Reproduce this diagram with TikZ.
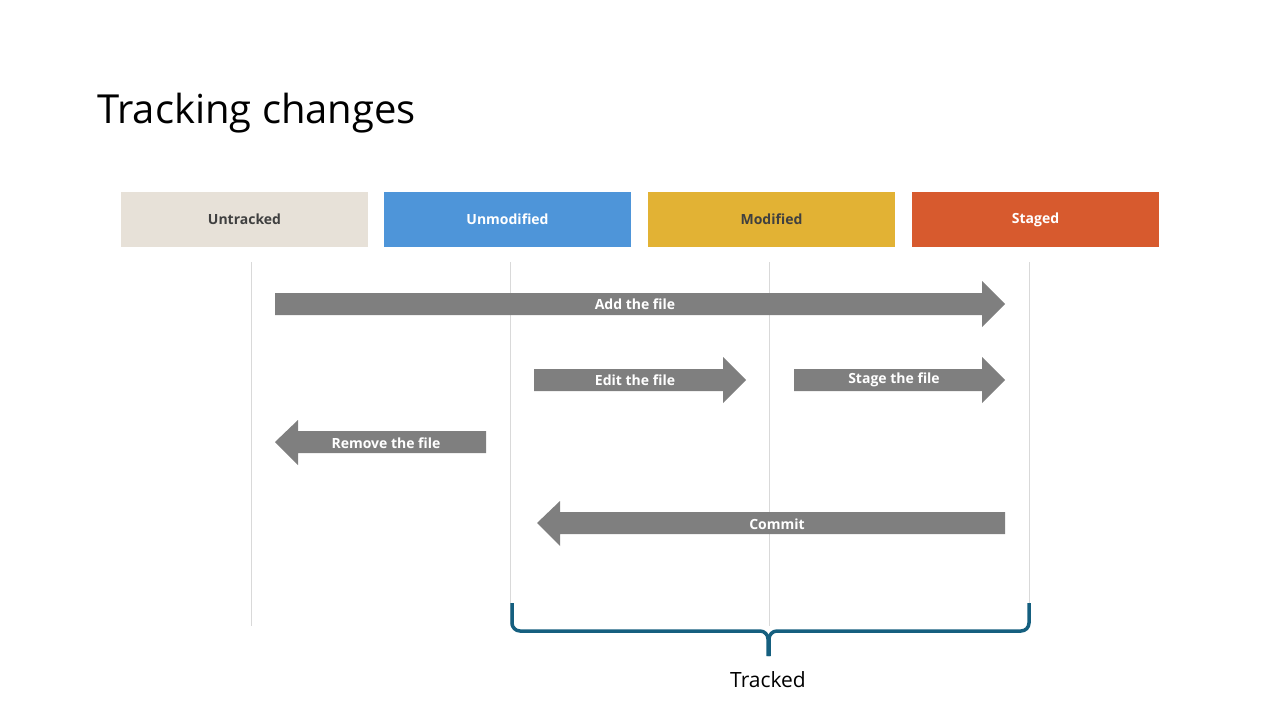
\documentclass[tikz,border=0pt]{standalone}
\usepackage{fontspec}
\setmainfont{Open Sans}
\begin{document}
\begin{tikzpicture}[x=1pt,y=-1pt]
\definecolor{unt}{HTML}{E7E1D8}\definecolor{unm}{HTML}{4E95D9}
\definecolor{mod}{HTML}{E2B234}\definecolor{stg}{HTML}{D75A2E}
\definecolor{arr}{HTML}{7F7F7F}\definecolor{txt}{HTML}{404040}
\definecolor{brc}{HTML}{155F7F}\definecolor{vl}{HTML}{D9D9D9}
\tikzset{state/.style={minimum width=247pt,minimum height=55pt,inner sep=0,font=\fontsize{14}{16}\selectfont\bfseries},
 lab/.style={font=\fontsize{14}{16}\selectfont\bfseries,text=white,inner sep=0},
 vline/.style={draw=vl,line width=1pt}}
\useasboundingbox (0,0) rectangle (1280,720);
\node[anchor=base west,inner sep=0,font=\fontsize{40}{48}\selectfont] (title) at (97,123) {Tracking changes};
\node[state,fill=unt,text=txt] (s1) at (244.5,219.5) {Untracked};
\node[state,fill=unm,text=white] (s2) at (507.5,219.5) {Unmodified};
\node[state,fill=mod,text=txt] (s3) at (771.5,219.5) {Modified};
\node[state,fill=stg,text=white] (s4) at (1035.5,219.5) {Staged};
\draw[vline] (251,262) -- (251,626);
\draw[vline] (510,262) -- (510,626);
\draw[vline] (769,262) -- (769,626);
\draw[vline] (1029,262) -- (1029,626);
% Add
\fill[arr] (275,293) -- (982,293) -- (982,281) -- (1005,304) -- (982,327) -- (982,315) -- (275,315) -- cycle;
\node[lab] (a1) at (635,304) {Add the file};
% Edit
\fill[arr] (534,369) -- (723,369) -- (723,357) -- (746,380) -- (723,403) -- (723,391) -- (534,391) -- cycle;
\node[lab] (a2) at (635,380) {Edit the file};
% Stage
\fill[arr] (794,369) -- (982,369) -- (982,357) -- (1005,380) -- (982,403) -- (982,391) -- (794,391) -- cycle;
\node[lab] (a3) at (894,380) {Stage the file};
% Remove
\fill[arr] (486,431) -- (298,431) -- (298,420) -- (275,442) -- (298,465) -- (298,453) -- (486,453) -- cycle;
\node[lab] (a4) at (386,443) {Remove the file};
% Commit
\fill[arr] (1005,512) -- (560,512) -- (560,501) -- (537,523) -- (560,546) -- (560,534) -- (1005,534) -- cycle;
\node[lab] (a5) at (777,524) {Commit};
% brace
\draw[brc,line width=3.5pt,line join=round] (512,603) -- (512,623) arc[start angle=180,end angle=90,radius=8] -- (760,631) arc[start angle=270,end angle=360,radius=8] -- (768,656);
\draw[brc,line width=3.5pt,line join=round] (1029,603) -- (1029,623) arc[start angle=0,end angle=90,radius=8] -- (777,631) arc[start angle=270,end angle=180,radius=8] -- (769,656);
\node[font=\fontsize{21}{24}\selectfont,inner sep=0] (tr) at (768,680) {Tracked};
\end{tikzpicture}
\end{document}
